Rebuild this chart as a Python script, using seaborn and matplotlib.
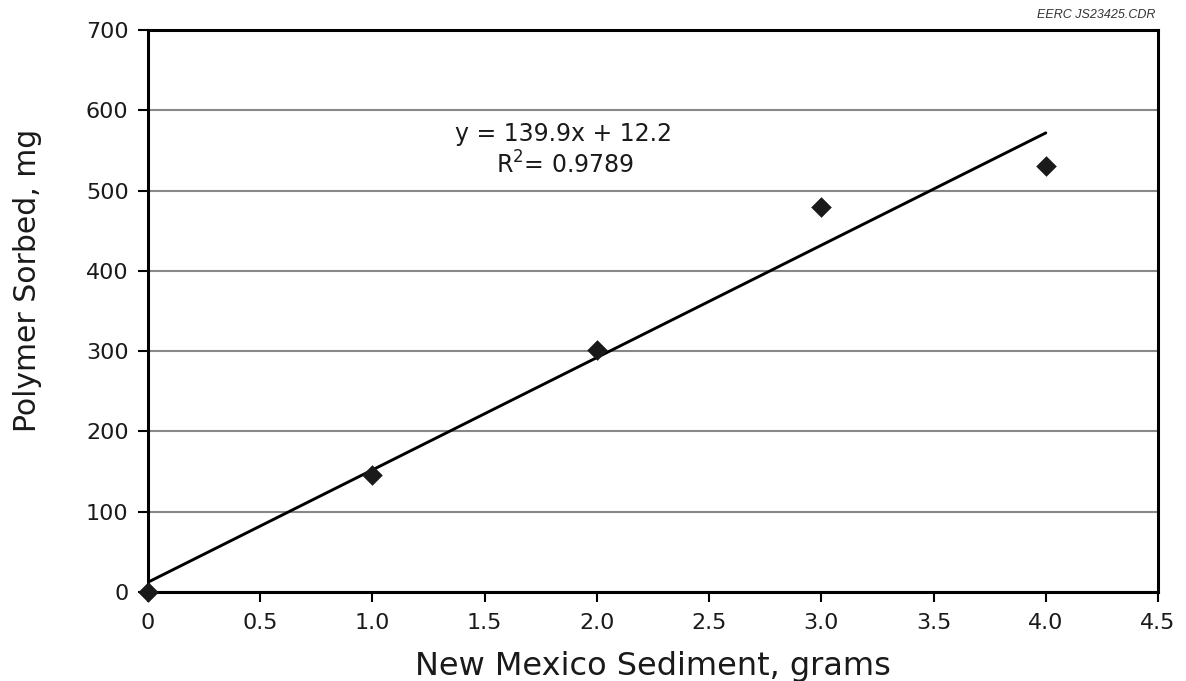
import numpy as np
import pandas as pd
import matplotlib
matplotlib.use("Agg")
import matplotlib.pyplot as plt
import seaborn as sns

# Sorption data
sediment_g = [0.0, 1.0, 2.0, 3.0, 4.0]
polymer_mg = [0.0, 146.0, 302.0, 480.0, 531.0]

# Linear trend line parameters (as reported)
slope = 139.9
intercept = 12.2
r_squared = 0.9789

x_ticks = [0, 0.5, 1.0, 1.5, 2.0, 2.5, 3.0, 3.5, 4.0, 4.5]
x_tick_labels = ["0", "0.5", "1.0", "1.5", "2.0", "2.5", "3.0", "3.5", "4.0", "4.5"]
y_ticks = [0, 100, 200, 300, 400, 500, 600, 700]

sns.set_style("white")
plt.rcParams["font.family"] = ["DejaVu Sans"]

fig = plt.figure(figsize=(11.86, 6.81), dpi=100)
ax = fig.add_axes([0.1248, 0.1307, 0.8516, 0.8253])

df = pd.DataFrame({"x": sediment_g, "y": polymer_mg})
fit_x = np.array([min(sediment_g), max(sediment_g)])
fit = pd.DataFrame({"x": fit_x, "y": slope * fit_x + intercept})

sns.lineplot(data=fit, x="x", y="y", ax=ax, color="black", linewidth=2.1, zorder=3)
sns.scatterplot(data=df, x="x", y="y", ax=ax, marker="D", s=110, color="#1a1a1a",
                edgecolor="#1a1a1a", linewidth=0, zorder=4, clip_on=False)

ax.set_xlim(0, 4.5)
ax.set_ylim(0, 700)
ax.set_xticks(x_ticks)
ax.set_xticklabels(x_tick_labels)
ax.set_yticks(y_ticks)

ax.yaxis.grid(True, color="#888888", linewidth=1.5)
ax.xaxis.grid(False)
ax.set_axisbelow(True)

for s in ax.spines.values():
    s.set_color("black")
    s.set_linewidth(2.2)

ax.tick_params(axis="both", direction="out", length=7, width=1.5, color="black",
               labelsize=16, labelcolor="#1a1a1a")
ax.tick_params(axis="y", left=True, pad=7)
ax.tick_params(axis="x", bottom=True, pad=8)

ax.set_xlabel("New Mexico Sediment, grams", fontsize=23, color="#1a1a1a", labelpad=13)
ax.set_ylabel("Polymer Sorbed, mg", fontsize=21.5, color="#1a1a1a")
ax.yaxis.set_label_coords(-0.105, 0.555)

ax.text(1.85, 571, f"y = {slope}x + {intercept}", fontsize=17, ha="center", va="center",
        color="#1a1a1a")
ax.text(1.86, 532, f"R$^2$= {r_squared}", fontsize=17, ha="center", va="center",
        color="#1a1a1a")

fig.text(0.974, 0.978, "EERC JS23425.CDR", fontsize=9, style="italic", ha="right",
         va="center", color="#333333", family="Liberation Sans")

fig.savefig("out.png", dpi=100)
